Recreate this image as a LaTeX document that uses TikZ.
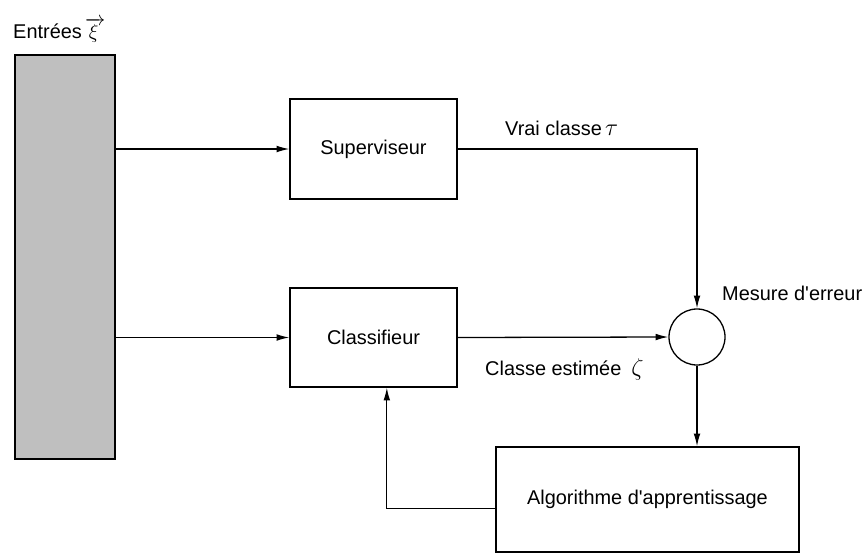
\documentclass[tikz,border=0pt]{standalone}
\usepackage{fontspec}
\setmainfont{Liberation Sans}
\usetikzlibrary{arrows.meta}

\newcommand{\gk}[1]{{\fontsize{21}{24}\selectfont$#1$}}

\begin{document}
\begin{tikzpicture}[x=0.03cm,y=-0.03cm,font=\fontsize{17}{20}\selectfont,
  bloc/.style={draw,line width=1.1pt,inner sep=0pt},
  lbl/.style={anchor=base west,inner sep=0pt},
  arr/.style={line width=1.1pt,-{Latex[length=3.8mm,width=2mm]}}]
\useasboundingbox (0,0) rectangle (867,554);
\node[bloc,fill=black!25,minimum width=3cm,minimum height=12.12cm] (entrees) at (65,257) {};
\node[bloc,minimum width=5.01cm,minimum height=3cm] (sup) at (373.5,149) {Superviseur};
\node[bloc,minimum width=5.01cm,minimum height=2.97cm] (cls) at (373.5,337.5) {Classifieur};
\node[bloc,circle,minimum size=1.68cm] (err) at (697,337) {};
\node[bloc,minimum width=9.09cm,minimum height=3.15cm] (algo) at (647.5,499.5) {Algorithme d\textquotesingle apprentissage};

\node[lbl] (lbent) at (13,38) {Entrées\,{\fontsize{19}{22}\selectfont$\overrightarrow{\xi\,}$}};
\node[lbl] (lbvrai) at (505,135) {Vrai classe\,\gk{\tau}};
\node[lbl] (lbmes) at (722,300) {Mesure d\textquotesingle erreur};
\node[lbl] (lbest) at (485,375) {Classe estimée\enspace\gk{\zeta}};

\draw[arr] (entrees.east |- sup.west) -- (sup.west);
\draw[arr] (entrees.east |- cls.west) -- (cls.west);
\draw[arr] (sup.east) -| (err.north);
\draw[arr] (cls.east) -- (err.west);
\draw[arr] (err.south) -- (err.south |- algo.north);
\draw[arr] ([yshift=-0.26cm]algo.west) -| ([xshift=0.4cm]cls.south);
\end{tikzpicture}
\end{document}
